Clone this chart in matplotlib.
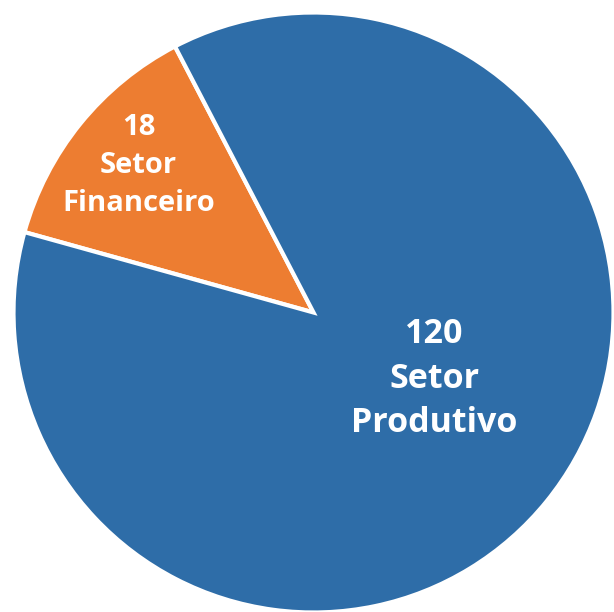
import matplotlib
matplotlib.use("Agg")
import matplotlib.pyplot as plt

# valores por setor
setores = ["Setor Financeiro", "Setor Produtivo"]
valores = [18, 120]
cores = ["#ed7d31", "#2e6da8"]

plt.rcParams['font.family'] = ['Open Sans', 'DejaVu Sans']

fig = plt.figure(figsize=(6.14, 6.12), dpi=100)
ax = fig.add_axes([13.5/614, -0.5/612, 600/614, 600/612])

wedges, _ = ax.pie(valores, colors=cores, startangle=117.5, counterclock=True,
                   radius=1, wedgeprops=dict(edgecolor="white", linewidth=3))
ax.set_xlim(-1, 1)
ax.set_ylim(-1, 1)
ax.set_aspect("equal")
ax.axis("off")

# rotulos dentro das fatias
pos = [(-0.583, 0.49), (0.402, -0.22)]
tam = [21, 24.5]
for v, s, (x, y), t in zip(valores, setores, pos, tam):
    nome = s.replace(" ", "\n")
    ax.text(x, y, f"{v}\n{nome}", ha="center", va="center", color="white",
            fontsize=t, fontweight="bold", linespacing=1.4)

fig.savefig("out.png", dpi=100)
